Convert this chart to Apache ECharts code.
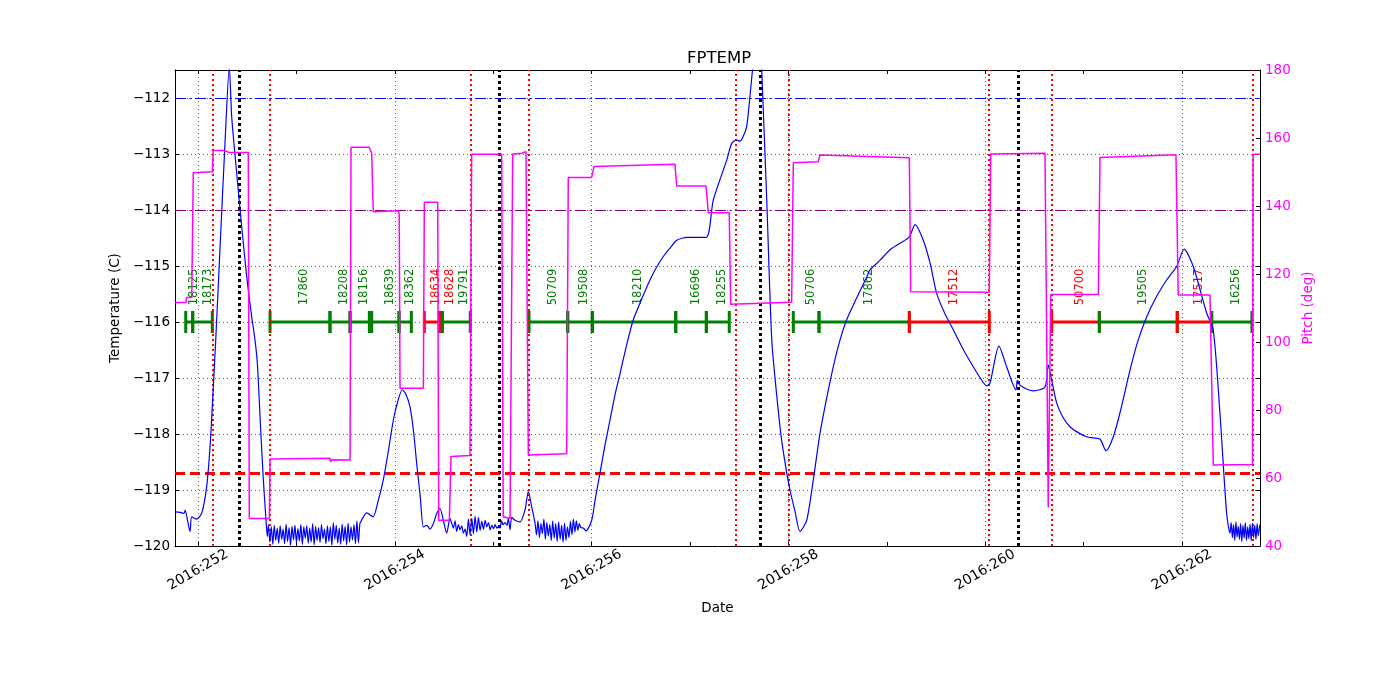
<!DOCTYPE html>
<html>
<head>
<meta charset="utf-8">
<title>FPTEMP</title>
<script src="https://cdn.jsdelivr.net/npm/echarts@6/dist/echarts.min.js"></script>
<style>
  html, body { margin: 0; padding: 0; background: #fff; }
  #chart { width: 1400px; height: 700px; }
</style>
</head>
<body>
<div id="chart"></div>
<script>
// x range in fractional day of year 2016
const dayMin = 251.766
const dayMax = 262.793
const dayTicks = [252, 253, 254, 255, 256, 257, 258, 259, 260, 261, 262]
const dayLabels = [252, 254, 256, 258, 260, 262]

// FPTEMP (C), [day, value]
const fptemp = [
  [251.766, -119.39], [251.817, -119.40], [251.858, -119.42], [251.868, -119.36],
  [251.919, -119.74], [251.936, -119.48], [251.987, -119.52], [252.038, -119.41],
  [252.088, -118.94], [252.122, -118.23], [252.145, -117.51], [252.180, -116.32],
  [252.224, -114.66], [252.274, -112.81], [252.318, -111.45], [252.342, -112.33],
  [252.393, -113.34], [252.444, -114.30], [252.495, -115.19], [252.546, -115.91],
  [252.579, -116.32], [252.603, -116.74], [252.637, -117.93], [252.664, -118.82],
  [252.691, -119.54], [252.704, -119.83],
  [252.715, -119.62], [252.730, -119.93], [252.745, -119.66], [252.760, -119.97],
  [252.775, -119.63], [252.790, -119.90], [252.805, -119.68], [252.820, -119.95],
  [252.835, -119.64], [252.850, -119.88], [252.865, -119.70], [252.880, -119.96],
  [252.895, -119.61], [252.910, -119.92], [252.925, -119.67], [252.940, -119.99],
  [252.955, -119.65], [252.970, -119.89], [252.985, -119.63], [253.000, -119.94],
  [253.015, -119.69], [253.030, -119.91], [253.045, -119.62], [253.060, -119.97],
  [253.075, -119.66], [253.090, -119.86], [253.105, -119.64], [253.120, -119.95],
  [253.135, -119.68], [253.150, -119.93], [253.165, -119.60], [253.180, -119.98],
  [253.195, -119.65], [253.210, -119.90], [253.225, -119.67], [253.240, -119.94],
  [253.255, -119.62], [253.270, -119.87], [253.285, -119.70], [253.300, -119.96],
  [253.315, -119.64], [253.330, -119.92], [253.345, -119.66], [253.360, -119.99],
  [253.375, -119.58], [253.390, -119.88], [253.405, -119.63], [253.420, -119.95],
  [253.435, -119.68], [253.450, -119.97], [253.465, -119.61], [253.480, -119.91],
  [253.495, -119.65], [253.510, -119.98], [253.525, -119.59], [253.540, -119.93],
  [253.555, -119.66], [253.570, -119.89], [253.585, -119.62], [253.600, -119.96],
  [253.615, -119.55], [253.630, -119.94], [253.645, -119.60], [253.660, -119.55],
  [253.680, -119.48], [253.714, -119.41], [253.778, -119.48], [253.830, -119.20],
  [253.883, -118.82], [253.930, -118.35], [253.985, -117.75], [254.030, -117.42],
  [254.076, -117.21], [254.110, -117.28], [254.154, -117.51], [254.190, -117.95],
  [254.222, -118.52], [254.260, -119.15],
  [254.290, -119.66], [254.324, -119.63], [254.358, -119.70], [254.392, -119.60],
  [254.426, -119.42], [254.459, -119.33], [254.493, -119.54], [254.527, -119.77],
  [254.561, -119.51], [254.595, -119.68], [254.612, -119.55], [254.629, -119.74],
  [254.646, -119.62], [254.663, -119.71], [254.680, -119.64], [254.697, -119.77],
  [254.714, -119.70], [254.731, -119.83], [254.748, -119.52], [254.765, -119.80],
  [254.782, -119.50], [254.799, -119.78], [254.816, -119.47], [254.833, -119.75],
  [254.850, -119.49], [254.867, -119.72], [254.884, -119.56], [254.901, -119.70],
  [254.918, -119.54], [254.935, -119.66], [254.952, -119.58], [254.969, -119.71],
  [254.986, -119.63], [255.003, -119.69], [255.020, -119.62], [255.037, -119.68],
  [255.054, -119.65], [255.069, -119.68], [255.085, -119.55], [255.100, -119.62],
  [255.120, -119.58], [255.140, -119.63], [255.153, -119.51], [255.171, -119.71],
  [255.188, -119.49], [255.222, -119.54], [255.272, -119.57], [255.323, -119.36],
  [255.357, -119.03], [255.391, -119.30], [255.425, -119.59],
  [255.440, -119.80], [255.455, -119.55], [255.470, -119.85], [255.485, -119.60],
  [255.500, -119.78], [255.515, -119.52], [255.530, -119.88], [255.545, -119.58],
  [255.560, -119.82], [255.575, -119.62], [255.590, -119.90], [255.605, -119.55],
  [255.620, -119.86], [255.635, -119.60], [255.650, -119.92], [255.665, -119.57],
  [255.680, -119.88], [255.695, -119.63], [255.710, -119.93], [255.725, -119.59],
  [255.740, -119.90], [255.755, -119.66], [255.770, -119.85], [255.785, -119.56],
  [255.800, -119.80], [255.815, -119.52], [255.830, -119.75], [255.845, -119.55],
  [255.860, -119.72], [255.875, -119.60], [255.890, -119.67],
  [255.916, -119.68], [255.943, -119.73], [256.001, -119.54], [256.035, -119.18],
  [256.085, -118.70], [256.136, -118.20], [256.187, -117.75], [256.238, -117.30],
  [256.289, -116.92], [256.360, -116.38], [256.424, -115.96], [256.492, -115.66],
  [256.593, -115.25], [256.654, -115.04], [256.729, -114.83], [256.797, -114.68],
  [256.865, -114.54], [256.929, -114.50], [256.966, -114.49], [257.163, -114.49],
  [257.237, -113.82], [257.373, -113.11], [257.424, -112.81], [257.474, -112.75],
  [257.508, -112.77], [257.542, -112.68], [257.576, -112.51], [257.612, -111.92],
  [257.635, -111.50], [257.700, -110.30], [257.729, -111.50], [257.780, -113.82],
  [257.831, -116.32], [257.886, -117.39], [257.927, -118.05], [257.978, -118.64],
  [258.016, -119.00], [258.067, -119.38], [258.118, -119.74], [258.186, -119.54],
  [258.253, -118.82], [258.321, -117.99], [258.390, -117.35], [258.456, -116.80],
  [258.520, -116.35], [258.592, -115.96], [258.680, -115.62], [258.795, -115.20],
  [258.829, -115.07], [258.930, -114.90], [259.033, -114.71], [259.130, -114.60],
  [259.229, -114.48], [259.287, -114.26], [259.371, -114.54], [259.440, -114.95],
  [259.507, -115.49], [259.590, -115.85], [259.676, -116.14], [259.780, -116.50],
  [259.879, -116.80], [259.950, -117.00], [260.015, -117.14], [260.049, -117.09],
  [260.140, -116.43], [260.218, -116.80], [260.313, -117.21], [260.326, -117.04],
  [260.354, -117.13], [260.489, -117.23], [260.608, -117.16], [260.641, -116.77],
  [260.676, -117.04], [260.727, -117.45], [260.790, -117.70], [260.862, -117.87],
  [260.950, -117.98], [261.032, -118.05], [261.100, -118.07], [261.167, -118.09],
  [261.228, -118.30], [261.302, -118.05], [261.380, -117.55], [261.472, -116.86],
  [261.550, -116.35], [261.641, -115.91], [261.740, -115.55], [261.844, -115.25],
  [261.900, -115.12], [261.946, -115.01], [262.023, -114.70], [262.115, -115.01],
  [262.251, -115.84], [262.318, -116.14], [262.386, -117.63], [262.454, -119.42],
  [262.488, -119.77], [262.500, -119.58], [262.512, -119.85], [262.524, -119.62],
  [262.536, -119.90], [262.548, -119.57], [262.560, -119.84], [262.572, -119.65],
  [262.584, -119.88], [262.596, -119.60], [262.608, -119.92], [262.620, -119.63],
  [262.632, -119.86], [262.644, -119.58], [262.656, -119.90], [262.668, -119.66],
  [262.680, -119.87], [262.692, -119.61], [262.704, -119.91], [262.716, -119.59],
  [262.728, -119.85], [262.740, -119.63], [262.752, -119.88], [262.764, -119.60],
  [262.776, -119.82], [262.790, -119.62]
]

// pitch (deg), [day, value]
const pitch = [
  [251.766, 111.6], [251.878, 111.6], [251.883, 113.1], [251.936, 113.1],
  [251.952, 149.8], [252.145, 150.1], [252.156, 156.3], [252.274, 156.3],
  [252.318, 155.7], [252.511, 155.7], [252.521, 48.1], [252.725, 48.1],
  [252.732, 65.6], [253.341, 65.8], [253.348, 64.8], [253.362, 65.4],
  [253.545, 65.3], [253.555, 157.3], [253.741, 157.3], [253.765, 155.5],
  [253.781, 138.3], [254.035, 138.6], [254.045, 137.4], [254.053, 86.4],
  [254.290, 86.4], [254.300, 141.1], [254.436, 141.1], [254.446, 47.6],
  [254.554, 47.6], [254.571, 66.3], [254.764, 66.6], [254.781, 155.2],
  [255.086, 155.2], [255.102, 48.6], [255.171, 48.1], [255.198, 155.3],
  [255.290, 155.5], [255.300, 155.9], [255.333, 156.0], [255.357, 66.8],
  [255.747, 67.1], [255.763, 148.4], [256.001, 148.4], [256.024, 151.6],
  [256.847, 152.3], [256.865, 145.9], [257.163, 145.9], [257.186, 138.0],
  [257.399, 138.0], [257.413, 111.1], [258.033, 111.7], [258.050, 152.7],
  [258.304, 153.0], [258.321, 155.0], [259.229, 154.2], [259.243, 114.8],
  [260.042, 114.6], [260.056, 155.3], [260.608, 155.5], [260.641, 51.3],
  [260.666, 114.0], [261.150, 114.0], [261.167, 154.3], [261.939, 155.1],
  [261.962, 113.8], [262.285, 113.8], [262.318, 63.8], [262.717, 64.0],
  [262.723, 155.2], [262.793, 155.2]
]

// radiation zone entry/exit (red) and perigee (black)
const radZoneDays = [252.145, 252.732, 254.767, 255.360, 257.464, 258.003, 260.042, 260.676, 262.716]
const perigeeDays = [252.420, 255.062, 257.711, 260.344]

// temperature limits
const planLimit = -112
const yellowLimit = -114
const redLimit = -118.7

// observations
const obsIds = ['18125', '18173', '17860', '18208', '18156', '18639', '18362', '18634', '18628', '19791',
  '50709', '19508', '18210', '16696', '18255', '50706', '17862', '17512', '50700', '19505', '17517', '16256']
const obsStart = [251.875, 251.946, 252.732, 253.341, 253.545, 253.765, 254.043, 254.300, 254.452, 254.483,
  255.364, 255.757, 256.007, 256.855, 257.166, 258.050, 258.311, 259.229, 260.676, 261.160, 261.952, 262.302]
const obsStop = [251.946, 252.145, 253.341, 253.545, 253.741, 254.043, 254.168, 254.452, 254.483, 254.767,
  255.757, 256.007, 256.855, 257.166, 257.399, 258.311, 259.229, 260.042, 261.160, 261.952, 262.302, 262.711]
const obsHot = ['n', 'n', 'n', 'n', 'n', 'n', 'n', 'y', 'y', 'n',
  'n', 'n', 'n', 'n', 'n', 'n', 'n', 'y', 'y', 'n', 'y', 'n']

const FONT = 'DejaVu Sans'
const BLUE = '#0000ff'
const MAGENTA = '#ff00ff'
const GREEN = '#008000'
const RED = '#ff0000'
const PURPLE = '#800080'
const OBS_LEVEL = -116
const OBS_LABEL_LEVEL = -115.7

const chart = echarts.init(document.getElementById('chart'))

const vlines = days => days.map(d => ({ xAxis: d }))

// obs bars with end ticks, labels pushed right when they would overlap
let lastLabelX = -Infinity
const renderObs = (params, api) => {
  if (params.dataIndexInside === 0) lastLabelX = -Infinity
  const i = params.dataIndex
  const a = api.coord([api.value(0), api.value(2)])
  const b = api.coord([api.value(1), api.value(2)])
  const col = obsHot[i] === 'y' ? RED : GREEN
  let lx = (a[0] + b[0]) / 2 + 4.5
  if (lx < lastLabelX + 14) lx = lastLabelX + 14
  lastLabelX = lx
  const ly = api.coord([api.value(0), OBS_LABEL_LEVEL])[1]
  return {
    type: 'group',
    children: [
      { type: 'line', shape: { x1: a[0], y1: a[1], x2: b[0], y2: b[1] }, style: { stroke: col, lineWidth: 3 } },
      { type: 'line', shape: { x1: a[0], y1: a[1] - 11, x2: a[0], y2: a[1] + 11 }, style: { stroke: col, lineWidth: 3 } },
      { type: 'line', shape: { x1: b[0], y1: b[1] - 11, x2: b[0], y2: b[1] + 11 }, style: { stroke: col, lineWidth: 3 } },
      {
        type: 'text', x: lx, y: ly, rotation: Math.PI / 2,
        style: { text: obsIds[i], fill: col, fontSize: 11.5, fontFamily: FONT, align: 'left', verticalAlign: 'middle' }
      }
    ]
  }
}

const tickStyle = { show: true, inside: true, length: 4, lineStyle: { color: '#000', width: 1 } }
const spine = { show: true, onZero: false, lineStyle: { color: '#000', width: 1 } }

const option = {
  animation: false,
  backgroundColor: '#fff',
  textStyle: { fontFamily: FONT },
  title: {
    text: 'FPTEMP',
    left: 682,
    top: 45,
    textStyle: { fontSize: 16.5, fontWeight: 'normal', color: '#000', fontFamily: FONT }
  },
  grid: [
    { left: 175, right: 140, top: 70, bottom: 154 },
    { left: 175, right: 140, top: 70, bottom: 154 }
  ],
  xAxis: [
    {
      type: 'value', gridIndex: 0, position: 'bottom', min: dayMin, max: dayMax,
      name: 'Date', nameLocation: 'middle', nameGap: 55,
      nameTextStyle: { fontSize: 13.5, color: '#000', fontFamily: FONT },
      axisLine: spine,
      axisTick: { ...tickStyle, customValues: dayTicks },
      axisLabel: {
        customValues: dayLabels,
        formatter: v => '2016:' + Math.round(v),
        rotate: 30, align: 'center', verticalAlign: 'middle', margin: 24,
        fontSize: 14, color: '#000', fontFamily: FONT
      },
      splitLine: { show: false }
    },
    {
      type: 'value', gridIndex: 0, position: 'top', min: dayMin, max: dayMax,
      axisLine: spine,
      axisTick: { ...tickStyle, customValues: dayTicks },
      axisLabel: { show: false },
      splitLine: { show: false }
    },
    { type: 'value', gridIndex: 1, min: dayMin, max: dayMax, show: false }
  ],
  yAxis: [
    {
      type: 'value', gridIndex: 0, position: 'left', min: -120, max: -111.5, interval: 1,
      name: 'Temperature (C)', nameLocation: 'middle', nameGap: 45, nameRotate: 90,
      nameTextStyle: { fontSize: 13.5, color: '#000', fontFamily: FONT },
      axisLine: spine,
      axisTick: tickStyle,
      axisLabel: {
        formatter: v => (v < 0 ? '\u2212' : '') + Math.abs(v),
        showMaxLabel: false, margin: 5, fontSize: 13.5, color: '#000', fontFamily: FONT
      },
      splitLine: { show: true, lineStyle: { color: '#000', width: 0.6, type: [1, 3] } }
    },
    {
      type: 'value', gridIndex: 0, position: 'right', min: 40, max: 180, interval: 20,
      name: 'Pitch (deg)', nameLocation: 'middle', nameGap: 32, nameRotate: 90,
      nameTextStyle: { fontSize: 13.5, color: MAGENTA, fontFamily: FONT },
      axisLine: spine,
      axisTick: tickStyle,
      axisLabel: { margin: 5, fontSize: 13.5, color: MAGENTA, fontFamily: FONT },
      splitLine: { show: false }
    },
    {
      type: 'value', gridIndex: 1, position: 'right', min: -120, max: -111.5, interval: 1,
      axisLine: { show: false },
      axisTick: tickStyle,
      axisLabel: { show: false },
      splitLine: { show: false }
    }
  ],
  series: [
    {
      name: 'xgrid', type: 'line', data: [], xAxisIndex: 0, yAxisIndex: 0, z: 1, silent: true,
      markLine: {
        symbol: ['none', 'none'], silent: true, label: { show: false }, animation: false,
        lineStyle: { color: '#000', width: 0.6, type: [1, 3] },
        data: vlines(dayLabels)
      }
    },
    {
      name: 'radzone', type: 'line', data: [], xAxisIndex: 0, yAxisIndex: 0, z: 2, silent: true,
      markLine: {
        symbol: ['none', 'none'], silent: true, label: { show: false }, animation: false,
        lineStyle: { color: RED, width: 2, type: [2, 3] },
        data: vlines(radZoneDays)
      }
    },
    {
      name: 'perigee', type: 'line', data: [], xAxisIndex: 0, yAxisIndex: 0, z: 2, silent: true,
      markLine: {
        symbol: ['none', 'none'], silent: true, label: { show: false }, animation: false,
        lineStyle: { color: '#000', width: 3, type: [3, 3] },
        data: vlines(perigeeDays)
      }
    },
    {
      name: 'limits', type: 'line', data: [], xAxisIndex: 0, yAxisIndex: 0, z: 3, silent: true,
      markLine: {
        symbol: ['none', 'none'], silent: true, label: { show: false }, animation: false,
        data: [
          { yAxis: planLimit, lineStyle: { color: BLUE, width: 1, type: [11, 3.5, 2, 3.5] } },
          { yAxis: yellowLimit, lineStyle: { color: PURPLE, width: 1, type: [11, 3.5, 2, 3.5] } },
          { yAxis: redLimit, lineStyle: { color: RED, width: 3, type: [10, 5] } }
        ]
      }
    },
    {
      name: 'obs', type: 'custom', xAxisIndex: 0, yAxisIndex: 0, z: 4, silent: true, clip: false,
      renderItem: renderObs,
      encode: { x: [0, 1], y: 2 },
      data: obsStart.map((s, i) => [s, obsStop[i], OBS_LEVEL])
    },
    {
      name: 'FPTEMP', type: 'line', data: fptemp, xAxisIndex: 0, yAxisIndex: 0, z: 5,
      showSymbol: false, symbol: 'none', silent: true, clip: true,
      smooth: 0.25,
      lineStyle: { color: BLUE, width: 1.2 }
    },
    {
      name: 'Pitch', type: 'line', data: pitch, xAxisIndex: 0, yAxisIndex: 1, z: 6,
      showSymbol: false, symbol: 'none', silent: true, clip: true,
      lineStyle: { color: MAGENTA, width: 1.5 }
    }
  ]
}

chart.setOption(option)
window.addEventListener('resize', () => chart.resize())
</script>
</body>
</html>
